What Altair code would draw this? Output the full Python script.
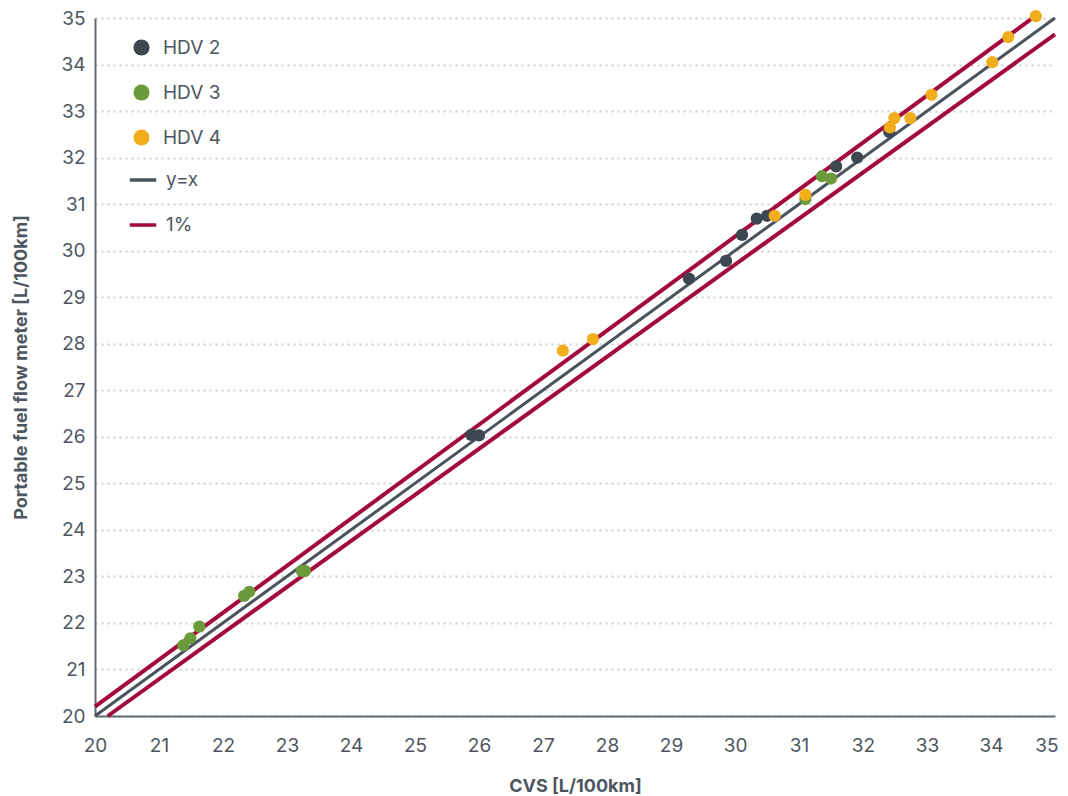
import altair as alt
import pandas as pd

# ---- data ----
hdv2_x = [25.88, 26.00, 29.28, 29.86, 30.11, 30.34, 30.50, 31.58, 31.91, 32.41]
hdv2_y = [26.04, 26.03, 29.40, 29.78, 30.34, 30.69, 30.75, 31.81, 32.00, 32.55]
hdv3_x = [21.38, 21.49, 21.63, 22.33, 22.41, 23.23, 23.28, 31.10, 31.36, 31.50]
hdv3_y = [21.52, 21.67, 21.92, 22.58, 22.67, 23.12, 23.12, 31.11, 31.60, 31.55]
hdv4_x = [27.31, 27.78, 30.62, 31.10, 32.42, 32.49, 32.74, 33.07, 34.02, 34.27, 34.70]
hdv4_y = [27.85, 28.10, 30.75, 31.20, 32.65, 32.85, 32.85, 33.35, 34.05, 34.59, 35.04]

# reference lines (end points)
yx_x = [20, 35]
yx_y = [20, 35]
up_x = [20, 34.65]
up_y = [20.2, 35]
lo_x = [20.2, 35]
lo_y = [20, 34.65]

ticks = list(range(20, 36))
series = ["HDV 2", "HDV 3", "HDV 4"]
series_colors = ["#3d4751", "#6b9a3b", "#f2ad1c"]
line_names = ["y=x", "1%"]
line_colors = ["#48535d", "#a3093c"]

pts = pd.concat([
    pd.DataFrame({"x": hdv2_x, "y": hdv2_y, "s": "HDV 2"}),
    pd.DataFrame({"x": hdv3_x, "y": hdv3_y, "s": "HDV 3"}),
    pd.DataFrame({"x": hdv4_x, "y": hdv4_y, "s": "HDV 4"}),
], ignore_index=True)
pts["o"] = range(len(pts))

lines_gray = pd.DataFrame({"x": yx_x, "y": yx_y, "l": "y=x", "seg": "a"})
lines_red = pd.concat([
    pd.DataFrame({"x": up_x, "y": up_y, "l": "1%", "seg": "up"}),
    pd.DataFrame({"x": lo_x, "y": lo_y, "l": "1%", "seg": "lo"}),
], ignore_index=True)

FONT = "Inter"
TXT = "#4d5660"

xs = alt.Scale(domain=[20, 35], nice=False)
ys = alt.Scale(domain=[20, 35], nice=False)
xax = alt.Axis(values=ticks, format="d", title="CVS [L/100km]", grid=False,
               labelFlush=False, labelPadding=20, titlePadding=22,
               labelAlign={"condition": {"test": "datum.value == 35", "value": "right"},
                           "value": "center"},
               labelOffset={"condition": {"test": "datum.value == 35", "value": 3},
                            "value": 0})
yax = alt.Axis(values=ticks, format="d", title="Portable fuel flow meter [L/100km]", grid=True,
               labelFlush=False, labelPadding=10, titlePadding=30)

line_color = alt.Color("l:N", scale=alt.Scale(domain=line_names, range=line_colors),
                       legend=alt.Legend(title=None, orient="none", legendX=33, legendY=147,
                                         symbolType="stroke", symbolSize=700,
                                         symbolStrokeWidth=3.5, labelOffset=8,
                                         rowPadding=20, labelFontSize=19,
                                         labelFontWeight="normal",
                                         labelColor=TXT, labelFont=FONT))

gray = alt.Chart(lines_gray).mark_line(strokeWidth=3).encode(
    x=alt.X("x:Q", scale=xs, axis=xax),
    y=alt.Y("y:Q", scale=ys, axis=yax),
    color=line_color,
    detail="seg:N",
)
red = alt.Chart(lines_red).mark_line(strokeWidth=4).encode(
    x=alt.X("x:Q", scale=xs),
    y=alt.Y("y:Q", scale=ys),
    color=line_color,
    detail="seg:N",
)

points = alt.Chart(pts).mark_circle(size=150, opacity=1).encode(
    x=alt.X("x:Q", scale=xs),
    y=alt.Y("y:Q", scale=ys),
    fill=alt.Fill("s:N", scale=alt.Scale(domain=series, range=series_colors),
                  legend=alt.Legend(title=None, orient="none", legendX=37, legendY=20,
                                    symbolType="circle", symbolSize=260,
                                    labelOffset=12, rowPadding=25, labelFontSize=19,
                                    labelFontWeight="normal",
                                    labelColor=TXT, labelFont=FONT)),
    order="o:Q",
)

chart = alt.layer(gray, red, points).properties(
    width=960, height=698,
    autosize=alt.AutoSizeParams(type="none"),
    padding={"left": 87, "top": 10, "right": 5, "bottom": 80},
).configure_view(stroke=None).configure_axis(
    labelFont=FONT, titleFont=FONT, labelFontSize=19, titleFontSize=18,
    labelColor=TXT, titleColor=TXT, titleFontWeight="bold",
    ticks=False, domainColor="#5f6a73", domainWidth=2,
    gridColor="#cfcfcf", gridDash=[2, 4], gridWidth=2,
)

chart.save("out.html", embed_options={"renderer": "svg", "actions": False})
